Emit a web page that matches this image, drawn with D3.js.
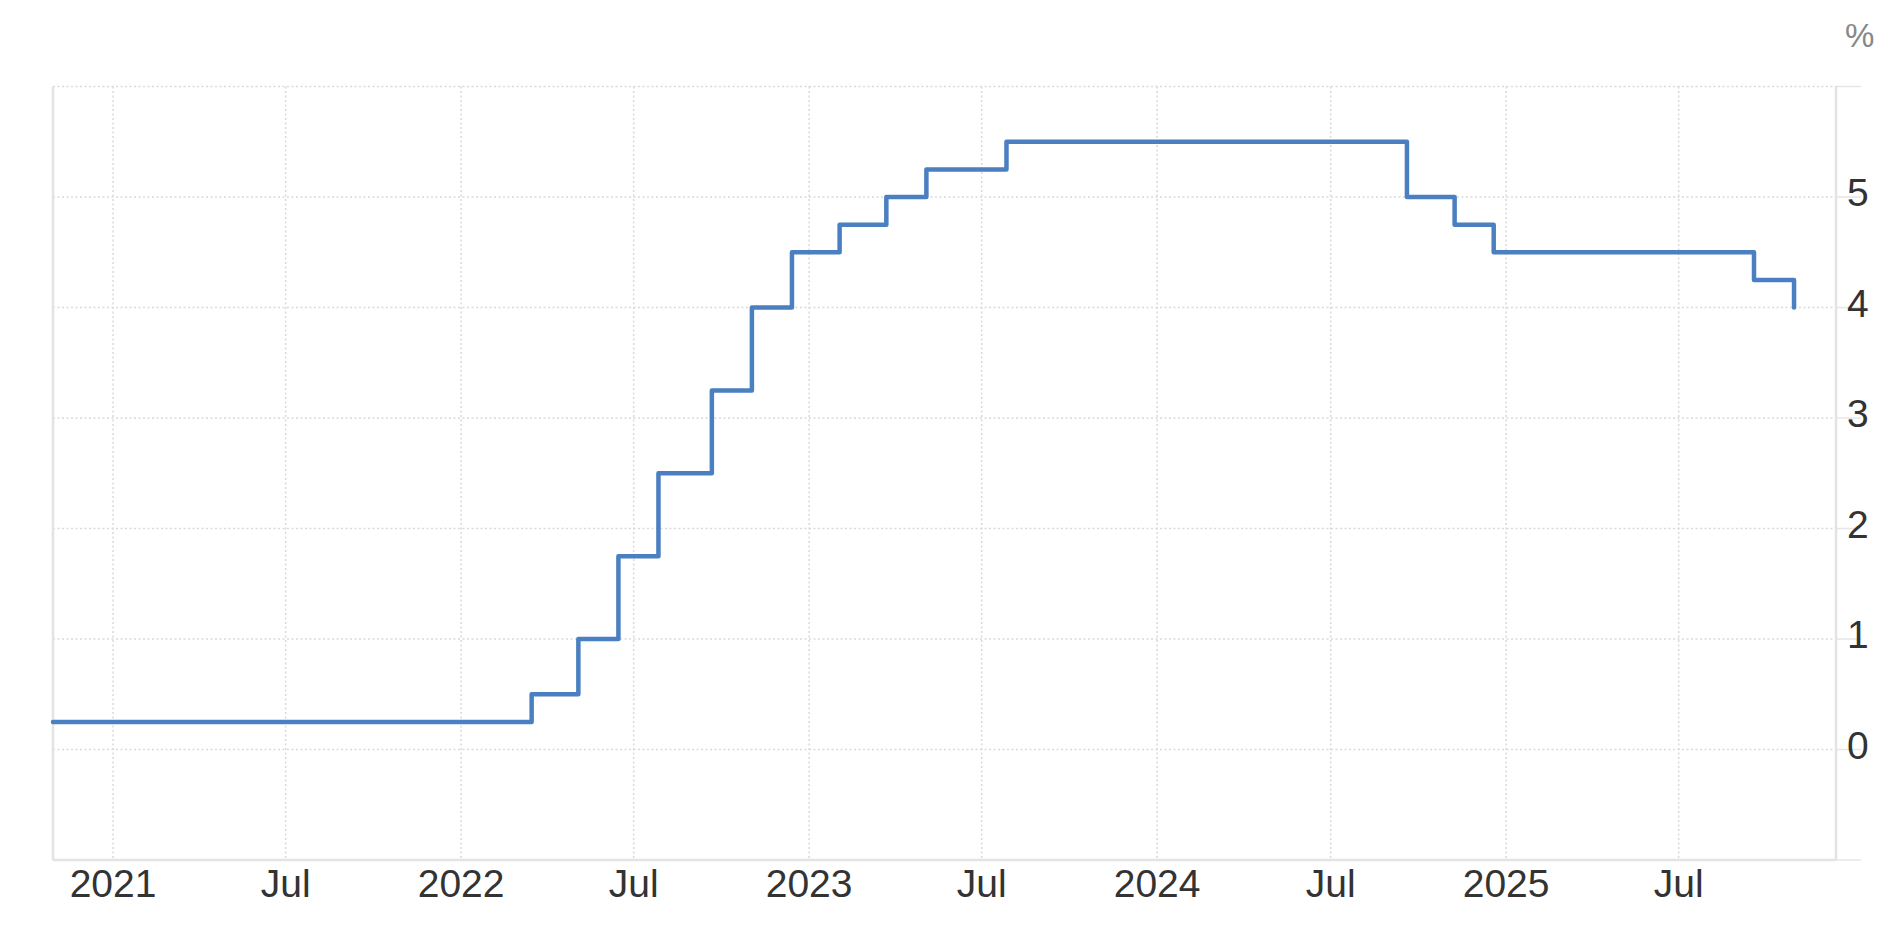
<!DOCTYPE html>
<html>
<head>
<meta charset="utf-8">
<script src="https://cdn.jsdelivr.net/npm/d3@7"></script>
<style>
    body { margin: 0; background: white; }
    svg { display: block; font-family: "Liberation Sans", Arial, Helvetica, sans-serif; }
</style>
</head>
<body>
<svg id="chart" width="1900" height="928"></svg>
<script>
// Fed funds target rate (upper bound), %
const dates = ["2020-10-30", "2022-03-16", "2022-05-04", "2022-06-15", "2022-07-27", "2022-09-21",
    "2022-11-02", "2022-12-14", "2023-02-02", "2023-03-23", "2023-05-04", "2023-07-27",
    "2024-09-19", "2024-11-08", "2024-12-19", "2025-09-18", "2025-10-30"];
const rates = [0.25, 0.5, 1, 1.75, 2.5, 3.25, 4, 4.5, 4.75, 5, 5.25, 5.5, 5, 4.75, 4.5, 4.25, 4];

const xTicks = ["2021-01-01", "2021-07-01", "2022-01-01", "2022-07-01", "2023-01-01", "2023-07-01",
    "2024-01-01", "2024-07-01", "2025-01-01", "2025-07-01"];
const yTicks = [-1, 0, 1, 2, 3, 4, 5, 6];
const yLabels = [0, 1, 2, 3, 4, 5];

const parse = d3.utcParse("%Y-%m-%d");
const data = dates.map((d, i) => ({ date: parse(d), value: rates[i] }));

const plotLeft = 53, plotRight = 1836, plotTop = 86.5, plotBottom = 860;

const svg = d3.select("#chart");

const x = d3.scaleUtc()
    .domain([parse("2020-10-30"), parse("2025-12-13")])
    .range([plotLeft, plotRight]);

const y = d3.scaleLinear()
    .domain([-1, 6])
    .range([plotBottom, plotTop]);

// vertical grid
svg.append("g")
    .selectAll("line")
    .data(xTicks.map(parse))
    .enter().append("line")
    .attr("x1", d => x(d)).attr("x2", d => x(d))
    .attr("y1", plotTop).attr("y2", plotBottom)
    .attr("stroke", "#d9d9d9")
    .attr("stroke-width", 1.5)
    .attr("stroke-dasharray", "2,2.5");

// horizontal grid
svg.append("g")
    .selectAll("line")
    .data(yTicks.filter(v => v > -1))
    .enter().append("line")
    .attr("x1", plotLeft).attr("x2", plotRight)
    .attr("y1", d => y(d)).attr("y2", d => y(d))
    .attr("stroke", "#d9d9d9")
    .attr("stroke-width", 1.5)
    .attr("stroke-dasharray", "2,2.5");

// right axis ticks
svg.append("g")
    .selectAll("line")
    .data(yTicks)
    .enter().append("line")
    .attr("x1", plotRight).attr("x2", plotRight + 25)
    .attr("y1", d => y(d)).attr("y2", d => y(d))
    .attr("stroke", "#e6e6e6")
    .attr("stroke-width", 1.5);

// frame lines
const frame = svg.append("g").attr("stroke", "#e3e3e3").attr("stroke-width", 2.5);
frame.append("line").attr("x1", plotLeft).attr("x2", plotLeft).attr("y1", plotTop).attr("y2", plotBottom);
frame.append("line").attr("x1", plotRight).attr("x2", plotRight).attr("y1", plotTop).attr("y2", plotBottom);
frame.append("line").attr("x1", plotLeft).attr("x2", plotRight).attr("y1", plotBottom).attr("y2", plotBottom);

// the rate line
const line = d3.line()
    .x(d => x(d.date))
    .y(d => y(d.value))
    .curve(d3.curveStepAfter);

svg.append("path")
    .datum(data)
    .attr("d", line)
    .attr("fill", "none")
    .attr("stroke", "#4a7fc1")
    .attr("stroke-width", 4.5)
    .attr("stroke-linejoin", "round")
    .attr("stroke-linecap", "round");

// x labels
const fmt = d => d.getUTCMonth() === 0 ? d3.utcFormat("%Y")(d) : d3.utcFormat("%b")(d);
svg.append("g")
    .selectAll("text")
    .data(xTicks.map(parse))
    .enter().append("text")
    .attr("x", d => x(d))
    .attr("y", 897)
    .attr("text-anchor", "middle")
    .attr("font-size", "39px")
    .attr("fill", "#333")
    .text(fmt);

// y labels
svg.append("g")
    .selectAll("text")
    .data(yLabels)
    .enter().append("text")
    .attr("x", 1847)
    .attr("y", d => y(d) + 9)
    .attr("font-size", "39px")
    .attr("fill", "#333")
    .text(d => d);

svg.append("text")
    .attr("x", 1845)
    .attr("y", 47)
    .attr("font-size", "33px")
    .attr("fill", "#888")
    .text("%");
</script>
</body>
</html>
